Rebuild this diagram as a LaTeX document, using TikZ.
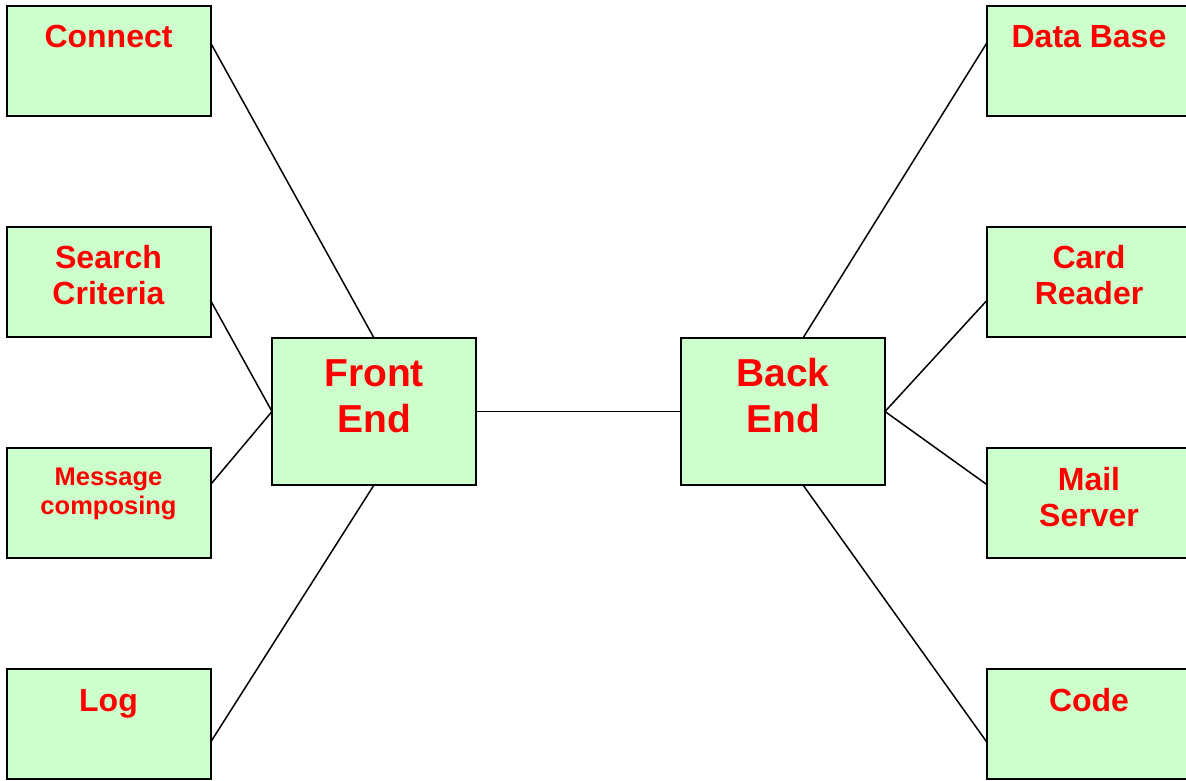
\documentclass[tikz,border=0pt]{standalone}
\usepackage{fontspec}
\setmainfont{Liberation Sans}
\usetikzlibrary{calc}
\definecolor{boxfill}{HTML}{CCFFCC}
\definecolor{labelred}{HTML}{FF0000}
\begin{document}
\begin{tikzpicture}[x=1pt,y=-1pt,
  module/.style={draw=black, line width=2pt, fill=boxfill, inner sep=0pt, outer sep=0pt,
    minimum width=204pt, minimum height=110pt},
  core/.style={module, minimum height=147pt},
  lbl/.style={text=labelred, font=\bfseries\fontsize{32}{36}\selectfont, align=center, anchor=base, inner sep=0pt},
  smalllbl/.style={lbl, font=\bfseries\fontsize{25.5}{29}\selectfont},
  biglbl/.style={lbl, font=\bfseries\fontsize{39}{46}\selectfont},
  wire/.style={draw=black, line width=1.5pt}]
\useasboundingbox (0,0) rectangle (1186,780);

% left column
\node[module] (connect) at (108.5,61) {};
\node[module] (search)  at (108.5,282) {};
\node[module] (message) at (108.5,503) {};
\node[module] (log)     at (108.5,724) {};
% right column (runs past the right edge)
\node[module] (database) at (1089,61) {};
\node[module] (card)     at (1089,282) {};
\node[module] (mail)     at (1089,503) {};
\node[module] (code)     at (1089,724) {};
% centre blocks
\node[core] (front) at (374,411.5) {};
\node[core] (back)  at (783,411.5) {};

% labels (anchored at the baseline of the last line)
\node[lbl] (tconnect) at (108.5,47) {Connect};
\node[lbl] (tsearch)  at (108.5,304) {Search\\Criteria};
\node[smalllbl] (tmessage) at (108.5,514) {Message\\composing};
\node[lbl] (tlog)     at (108.5,711) {Log};
\node[lbl] (tdb)      at (1089,47) {Data Base};
\node[lbl] (tcard)    at (1089,304) {Card\\Reader};
\node[lbl] (tmail)    at (1089,526) {Mail\\Server};
\node[lbl] (tcode)    at (1089,711) {Code};
\node[biglbl] (tfront) at (374,432) {Front\\End};
\node[biglbl] (tback)  at (783,432) {Back\\End};

% connectors
\draw[wire] ($(connect.north east)!1/3!(connect.south east)$) -- (front.north);
\draw[wire] ($(search.north east)!2/3!(search.south east)$) -- (front.west);
\draw[wire] ($(message.north east)!1/3!(message.south east)$) -- (front.west);
\draw[wire] ($(log.north east)!2/3!(log.south east)$) -- (front.south);
\draw[wire] (front.east) -- (back.west);
\draw[wire] ($(database.north west)!1/3!(database.south west)$) -- ($(back.north)+(20,0)$);
\draw[wire] ($(card.north west)!2/3!(card.south west)$) -- (back.east);
\draw[wire] ($(mail.north west)!1/3!(mail.south west)$) -- (back.east);
\draw[wire] ($(code.north west)!2/3!(code.south west)$) -- ($(back.south)+(20,0)$);
\end{tikzpicture}
\end{document}
